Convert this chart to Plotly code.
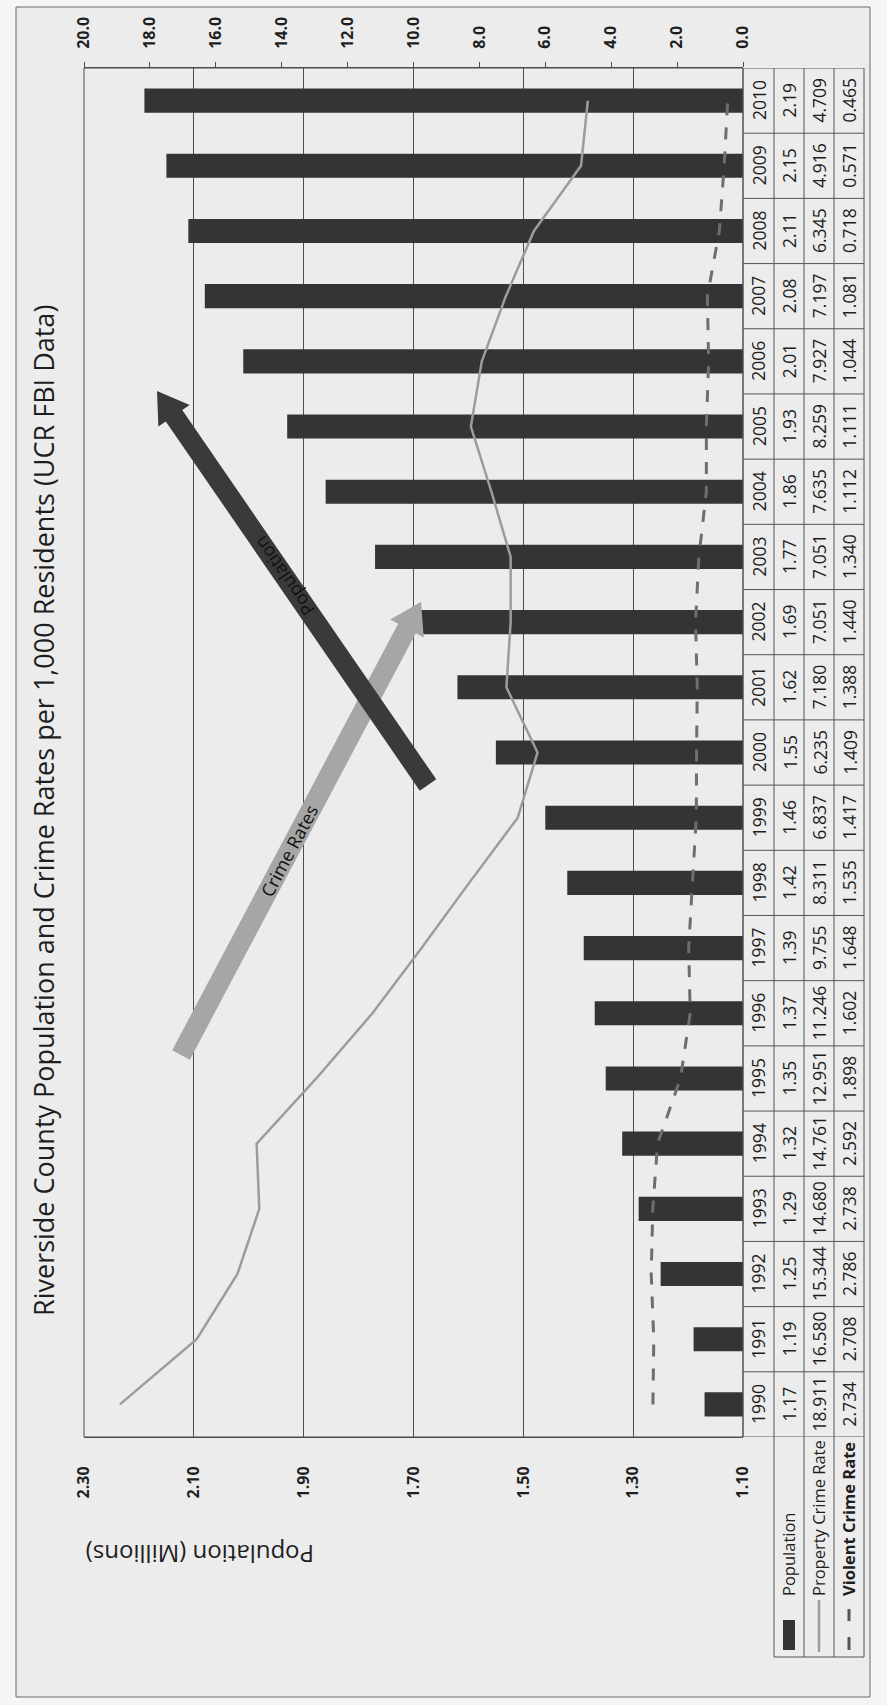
import math
import plotly.graph_objects as go

# ---------------- data ----------------
years = [str(y) for y in range(1990, 2011)]
population = [1.17, 1.19, 1.25, 1.29, 1.32, 1.35, 1.37, 1.39, 1.42, 1.46, 1.55,
              1.62, 1.69, 1.77, 1.86, 1.93, 2.01, 2.08, 2.11, 2.15, 2.19]
property_rate = [18.911, 16.580, 15.344, 14.680, 14.761, 12.951, 11.246, 9.755,
                 8.311, 6.837, 6.235, 7.180, 7.051, 7.051, 7.635, 8.259, 7.927,
                 7.197, 6.345, 4.916, 4.709]
violent_rate = [2.734, 2.708, 2.786, 2.738, 2.592, 1.898, 1.602, 1.648, 1.535,
                1.417, 1.409, 1.388, 1.440, 1.340, 1.112, 1.111, 1.044, 1.081,
                0.718, 0.571, 0.465]
pop_ticks = [1.10, 1.30, 1.50, 1.70, 1.90, 2.10, 2.30]
crime_ticks = [0, 2, 4, 6, 8, 10, 12, 14, 16, 18, 20]
series_names = ["Population", "Property Crime Rate", "Violent Crime Rate"]
title_text = "Riverside County Population and Crime Rates per 1,000 Residents (UCR FBI Data)"
pop_axis_title = "Population (Millions)"

# ---------------- layout geometry (pixels) ----------------
W, H = 887, 1705
L, R, T, B = 84, 743, 68, 1437
FONT = "Open Sans"
INK = "#1e1e1e"
GRID = "#4d4d4d"


def px(x):
    return (x - L) / (R - L)


def py(y):
    return (B - y) / (B - T)


fig = go.Figure()

fig.add_trace(go.Bar(
    y=years, x=population, orientation="h", name=series_names[0],
    marker=dict(color="#343434", line=dict(width=0)),
    xaxis="x", yaxis="y", showlegend=False,
))
fig.add_trace(go.Scatter(
    y=years, x=property_rate, mode="lines", name=series_names[1],
    line=dict(color="#9c9c9c", width=2.5),
    xaxis="x2", yaxis="y", showlegend=False,
))
fig.add_trace(go.Scatter(
    y=years, x=violent_rate, mode="lines", name=series_names[2],
    line=dict(color="#6e6e6e", width=3, dash="12px,12px"),
    xaxis="x2", yaxis="y", showlegend=False,
))

shapes = []
annotations = []

# page background / border
shapes.append(dict(type="rect", xref="paper", yref="paper",
                   x0=px(16), x1=px(870), y0=py(7), y1=py(1697),
                   fillcolor="#ececec", line=dict(color="#6a6a6a", width=1),
                   layer="below"))
# plot frame
shapes.append(dict(type="rect", xref="paper", yref="paper", x0=0, x1=1, y0=0, y1=1,
                   line=dict(color=GRID, width=1), layer="above"))

# ---------------- data table (rotated) ----------------
col_edges = [743, 774, 804, 834, 864]
col_centers = [(col_edges[i] + col_edges[i + 1]) / 2 for i in range(4)]
line_style = dict(color="#555555", width=1)
for k in range(len(years) + 1):
    shapes.append(dict(type="line", xref="paper", yref="y",
                       x0=px(col_edges[0]), x1=px(col_edges[-1]),
                       y0=k - 0.5, y1=k - 0.5, line=line_style))
for xe in col_edges:
    shapes.append(dict(type="line", xref="paper", yref="y",
                       x0=px(xe), x1=px(xe), y0=-0.5, y1=len(years) - 0.5,
                       line=line_style))
# legend / row-header box
for xe in col_edges[1:]:
    shapes.append(dict(type="line", xref="paper", yref="paper",
                       x0=px(xe), x1=px(xe), y0=py(B), y1=py(1657), line=line_style))
shapes.append(dict(type="line", xref="paper", yref="paper",
                   x0=px(col_edges[1]), x1=px(col_edges[-1]),
                   y0=py(1657), y1=py(1657), line=line_style))

cell_font = dict(family=FONT, size=17.5, color=INK)
for i, yr in enumerate(years):
    cells = [yr, f"{population[i]:.2f}", f"{property_rate[i]:.3f}", f"{violent_rate[i]:.3f}"]
    for c, txt in enumerate(cells):
        annotations.append(dict(xref="paper", yref="y", x=px(col_centers[c]), y=i,
                                text=txt, textangle=-90, showarrow=False,
                                font=cell_font, xanchor="center", yanchor="middle"))

# legend entries inside the row-header box
for c, name in enumerate(series_names):
    annotations.append(dict(xref="paper", yref="paper", x=px(col_centers[c + 1]),
                            y=py(1598), text=name, textangle=-90, showarrow=False,
                            font=dict(family=FONT, size=16.5, color=INK,
                                      weight="bold" if c == 2 else "normal"),
                            xanchor="center", yanchor="bottom"))
# legend keys
shapes.append(dict(type="rect", xref="paper", yref="paper",
                   x0=px(col_centers[1] - 6), x1=px(col_centers[1] + 6),
                   y0=py(1620), y1=py(1650), fillcolor="#343434", line=dict(width=0)))
shapes.append(dict(type="line", xref="paper", yref="paper",
                   x0=px(col_centers[2]), x1=px(col_centers[2]),
                   y0=py(1600), y1=py(1652), line=dict(color="#9c9c9c", width=2.5)))
for a, b in [(1609, 1621), (1637, 1650)]:
    shapes.append(dict(type="line", xref="paper", yref="paper",
                       x0=px(col_centers[3]), x1=px(col_centers[3]),
                       y0=py(a), y1=py(b), line=dict(color="#555555", width=3)))


# ---------------- arrows ----------------
def arrow_path(tail, head, sw, hw, hl):
    tx, ty = tail
    hx, hy = head
    dx, dy = hx - tx, hy - ty
    ln = math.hypot(dx, dy)
    ux, uy = dx / ln, dy / ln
    nx, ny = -uy, ux
    bx, by = hx - ux * hl, hy - uy * hl
    pts = [(tx + nx * sw / 2, ty + ny * sw / 2),
           (bx + nx * sw / 2, by + ny * sw / 2),
           (bx + nx * hw / 2, by + ny * hw / 2),
           (hx, hy),
           (bx - nx * hw / 2, by - ny * hw / 2),
           (bx - nx * sw / 2, by - ny * sw / 2),
           (tx - nx * sw / 2, ty - ny * sw / 2)]
    return "M " + " L ".join(f"{px(x):.5f},{py(y):.5f}" for x, y in pts) + " Z"


def angle(tail, head):
    return math.degrees(math.atan2(head[1] - tail[1], head[0] - tail[0]))


crime_tail, crime_head = (181, 1055), (421, 602)
pop_tail, pop_head = (428, 785), (157, 391)
shapes.append(dict(type="path", xref="paper", yref="paper",
                   path=arrow_path(crime_tail, crime_head, 20, 38, 30),
                   fillcolor="#a6a6a6", line=dict(width=0), layer="above"))
shapes.append(dict(type="path", xref="paper", yref="paper",
                   path=arrow_path(pop_tail, pop_head, 20, 38, 30),
                   fillcolor="#3a3a3a", line=dict(width=0), layer="above"))


def along(tail, head, t):
    return tail[0] + (head[0] - tail[0]) * t, tail[1] + (head[1] - tail[1]) * t


cx, cy = along(crime_tail, crime_head, 0.45)
annotations.append(dict(xref="paper", yref="paper", x=px(cx), y=py(cy),
                        text="Crime Rates", textangle=angle(crime_tail, crime_head),
                        showarrow=False, xanchor="center", yanchor="middle",
                        font=dict(family=FONT, size=18, color="#111111")))
qx, qy = along(pop_tail, pop_head, 0.53)
annotations.append(dict(xref="paper", yref="paper", x=px(qx), y=py(qy),
                        text="Population", textangle=angle(pop_tail, pop_head),
                        showarrow=False, xanchor="center", yanchor="middle",
                        font=dict(family=FONT, size=18, color="#111111")))

# ---------------- titles ----------------
annotations.append(dict(xref="paper", yref="paper", x=px(44), y=py(811),
                        text=title_text, textangle=-90, showarrow=False,
                        xanchor="center", yanchor="middle",
                        font=dict(family=FONT, size=27, color=INK)))
annotations.append(dict(xref="paper", yref="paper", x=px(200), y=py(1554),
                        text=pop_axis_title, textangle=180, showarrow=False,
                        xanchor="center", yanchor="middle",
                        font=dict(family=FONT, size=24, color=INK)))

tick_font = dict(family=FONT, size=16, color=INK, weight="bold")
fig.update_layout(
    width=W, height=H,
    margin=dict(l=L, r=W - R, t=T, b=H - B, pad=0),
    paper_bgcolor="#f5f5f5", plot_bgcolor="rgba(0,0,0,0)",
    barmode="overlay", bargap=0.63,
    showlegend=False,
    xaxis=dict(range=[pop_ticks[-1], pop_ticks[0]], tickvals=pop_ticks,
               ticktext=[f"{v:.2f}" for v in pop_ticks], tickangle=-90,
               side="bottom", showgrid=True, gridcolor=GRID, gridwidth=1,
               showline=True, linecolor=GRID, linewidth=1, ticks="",
               zeroline=False, tickfont=tick_font, ticklabelstandoff=22),
    xaxis2=dict(range=[crime_ticks[-1], crime_ticks[0]], tickvals=crime_ticks,
                ticktext=[f"{v:.1f}" for v in crime_ticks], tickangle=-90,
                overlaying="x", side="top", showgrid=False, showline=True,
                linecolor=GRID, linewidth=1, ticks="outside", ticklen=5,
                tickcolor=GRID, zeroline=False, tickfont=tick_font,
                ticklabelstandoff=10),
    yaxis=dict(type="category", categoryorder="array", categoryarray=years,
               range=[-0.5, len(years) - 0.5], showticklabels=False,
               showgrid=False, zeroline=False, showline=False, ticks=""),
    shapes=shapes, annotations=annotations,
)

fig.write_html("out.html")
